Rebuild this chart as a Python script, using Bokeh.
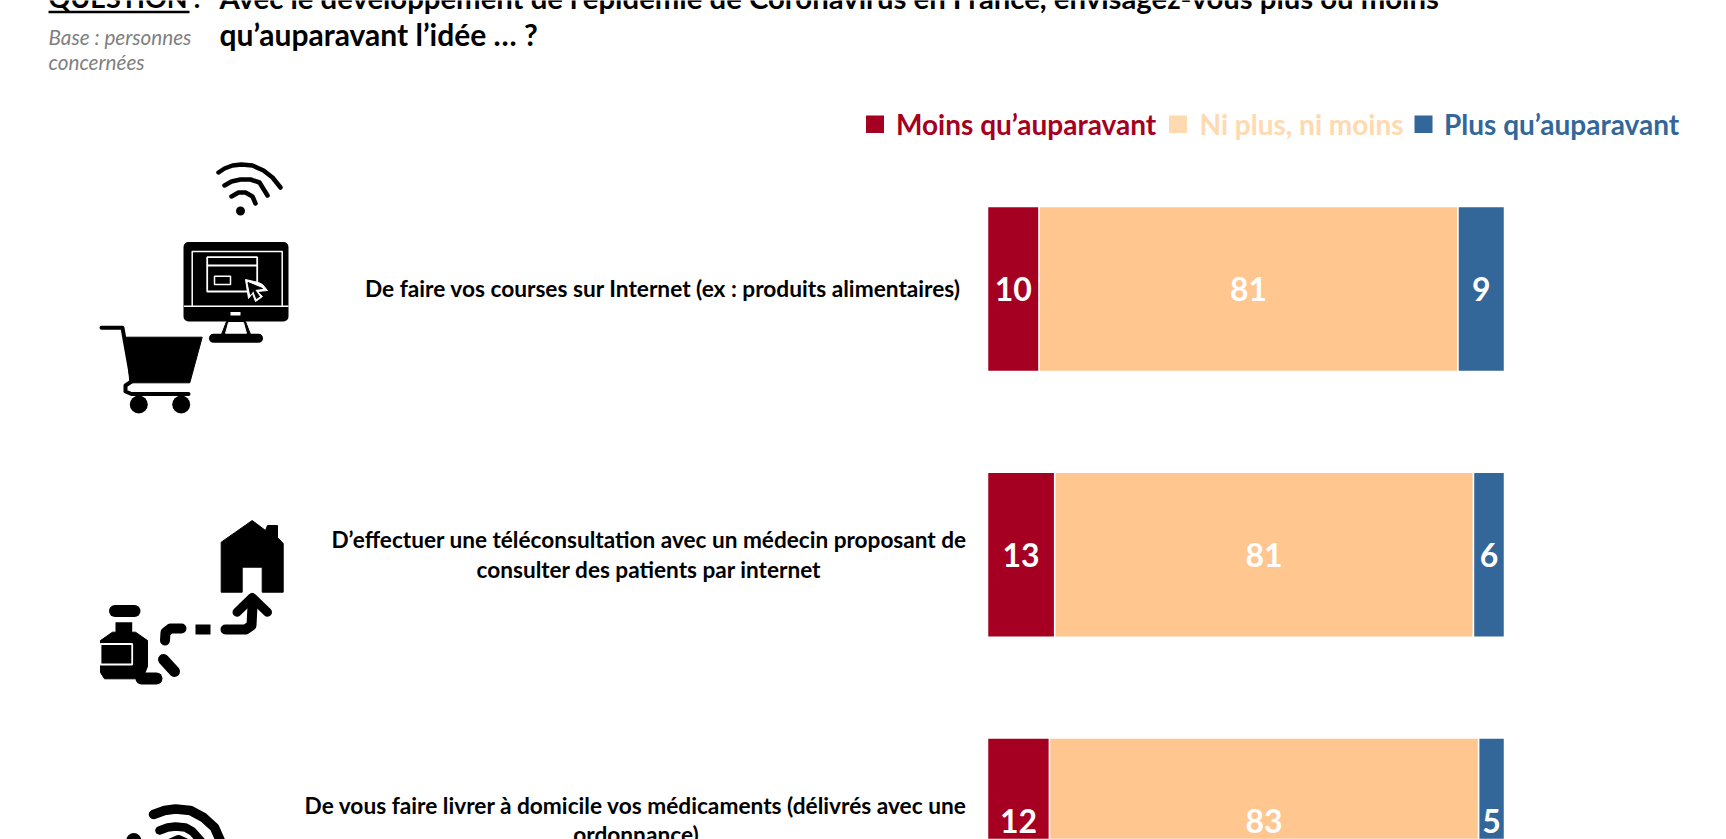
from bokeh.plotting import figure
from bokeh.models import Range1d, ColumnDataSource
from bokeh.core.properties import value
from bokeh.embed import file_html
from bokeh.resources import INLINE

# --- data ---
rows = [0, 1, 2]
moins = [10, 13, 12]
ni = [81, 81, 83]
plus = [9, 6, 5]
series_names = ["Moins qu’auparavant", "Ni plus, ni moins", "Plus qu’auparavant"]
row_labels = [
    ["De faire vos courses sur Internet (ex : produits alimentaires)"],
    ["D’effectuer une téléconsultation avec un médecin proposant de", "consulter des patients par internet"],
    ["De vous faire livrer à domicile vos médicaments (délivrés avec une", "ordonnance)"],
]
RED, PEACH, BLUE = "#A50021", "#FFC68F", "#336699"
FONT = value("Lato")
W, H = 1726, 839

# value axis: 0 at px 987, 100 at px 1504; rows: centres at px 288.5 + 265.75*r
ppu = 5.17
rowh = 265.75
p = figure(width=W, height=H, output_backend="svg", toolbar_location=None,
           x_range=Range1d(-987 / ppu, (W - 987) / ppu),
           y_range=Range1d((H - 288.5) / rowh, -288.5 / rowh),
           min_border=0, margin=0)
p.axis.visible = False
p.grid.visible = False
p.outline_line_color = None
p.background_fill_color = "white"
p.border_fill_color = "white"
p.extra_x_ranges["px"] = Range1d(0, W)
p.extra_y_ranges["px"] = Range1d(H, 0)
PX = dict(x_range_name="px", y_range_name="px")

# --- bars ---
left = [0, 0, 0]
for vals, col in zip([moins, ni, plus], [RED, PEACH, BLUE]):
    right = [a + b for a, b in zip(left, vals)]
    src = ColumnDataSource(dict(y=rows, left=left, right=right,
                                mid=[(a + b) / 2 for a, b in zip(left, right)],
                                txt=[str(v) for v in vals]))
    p.hbar(y="y", left="left", right="right", height=0.62, source=src,
           fill_color=col, line_color="white", line_width=1.5)
    p.text(x="mid", y="y", text="txt", source=src, text_color="white",
           text_font=FONT, text_font_style="bold", text_font_size="32px",
           text_align="center", text_baseline="middle")
    left = right


def label(x, y, s, size, color="black", align="left", style="bold", baseline="middle"):
    p.text(x=[x], y=[y], text=[s], text_color=color, text_font=FONT,
           text_font_style=style, text_font_size=f"{size}px",
           text_align=align, text_baseline=baseline, **PX)


# --- title block ---
label(48, -3, "QUESTION", 27, baseline="alphabetic")
p.line([48, 189], [11.5, 11.5], line_color="black", line_width=2.5, **PX)
label(193, -3, ":", 27, baseline="alphabetic")
label(219, -3, "Avec le développement de l’épidémie de Coronavirus en France, envisagez-vous plus ou moins", 29.3, baseline="alphabetic")
label(219, 33, "qu’auparavant l’idée … ?", 30, baseline="alphabetic")
label(48, 36, "Base : personnes", 20.7, color="#7F7F7F", style="italic")
label(48, 61, "concernées", 20.7, color="#7F7F7F", style="italic")

# --- legend ---
for sq, tx, name, c, tc in zip([865.5, 1168.5, 1414], [895.5, 1199, 1443.5], series_names,
                               [RED, "#FFD9B0", BLUE], [RED, "#FFD9B0", BLUE]):
    p.quad(left=[sq], right=[sq + 18], top=[115], bottom=[132.5], fill_color=c, line_color=None, **PX)
    label(tx, 123, name, 28, color=tc)

# --- row labels ---
centres = [662.5, 648.5, 635.5]
ys = [[288], [539, 569], [804.7, 834]]
sizes = [22.7, 22.6, 22.7]
for lines, cx, yy, sz in zip(row_labels, centres, ys, sizes):
    for s, y in zip(lines, yy):
        label(cx, y, s, sz, align="center")


# --- icons (pictograms, drawn in page pixels) ---
def poly(xs, ys, c="black"):
    p.patch(xs, ys, fill_color=c, line_color=c, line_width=1, line_join="round", **PX)


def stroke(xs, ys, w, c="black"):
    p.line(xs, ys, line_color=c, line_width=w, line_cap="round", line_join="round", **PX)


def box(l, r, t, b, c="black", lc=None, lw=1):
    p.quad(left=[l], right=[r], top=[t], bottom=[b], fill_color=c, line_color=lc, line_width=lw, **PX)


# wifi
stroke([218, 224, 232, 241, 252, 263, 272, 280], [172, 168, 165, 164, 165, 170, 177, 187], 4.5)
stroke([224, 231, 240, 250, 259, 267], [185, 181, 179, 179, 182, 195], 4.5)
stroke([231, 238, 245, 252, 255], [196, 192, 192, 196, 203], 4.5)
p.scatter([240], [210.5], size=9, fill_color="black", line_color=None, **PX)
# monitor
stroke([188, 283, 283, 188, 188], [246.5, 246.5, 316, 316, 246.5], 10)
box(188, 283, 246.5, 316)
stroke([191.7, 191.7, 281.7, 281.7], [305, 251, 251, 305], 1.5, "white")
box(183.5, 288, 305, 306.5, "white")
box(206.7, 256.7, 256.7, 291, "black", "white", 1.8)
stroke([207, 256], [265, 265], 1.8, "white")
box(214, 230, 275.7, 284, "black", "white", 1.5)
poly([245, 248, 252, 255, 258, 262, 257, 267, 262, 258], [279, 298, 293, 301, 299, 296, 291, 290, 284, 282], "white")
poly([247.5, 250, 253, 256, 259, 254, 262], [282, 294, 290, 298, 296, 289, 288])
box(230, 240, 311.5, 315, "white")
poly([226, 245, 250, 221], [321, 321, 334, 334])
poly([228, 243, 246, 225], [322, 322, 333, 333], "white")
stroke([213, 258], [337.7, 337.7], 9)
# cart
stroke([101, 122, 131], [327.3, 327.3, 378], 4)
poly([125.7, 201.7, 189.3, 129.3], [336.7, 336.7, 382.3, 382.3])
stroke([131, 125, 125, 131, 188], [381, 385, 391, 393.5, 393.5], 4)
p.scatter([138.3, 180.7], [404, 404], size=18, fill_color="black", line_color=None, **PX)

# house
poly([251.7, 265, 267, 277, 277, 282.7, 282.7, 261.7, 261.7, 241.7, 241.7, 220.7, 220.7],
     [520, 530, 525, 525, 537, 543, 591.7, 591.7, 566.7, 566.7, 591.7, 591.7, 541.7])
# dashed arrow
stroke([225, 245, 251, 252], [629, 629, 625, 605], 10)
stroke([236.5, 251.7, 267], [611.7, 597, 611.7], 9)
box(195, 210, 624, 634)
stroke([181, 170, 165, 164.5], [628, 628, 632, 640], 10)
# bottle and pills
stroke([114.5, 134], [610.5, 610.5], 12)
box(115, 131.7, 621.7, 633)
poly([100, 112, 135, 147, 147, 142, 104, 100], [640, 631.7, 631.7, 640, 666, 678.3, 678.3, 672])
box(100, 131.7, 643.5, 664, "black", "white", 1.8)
stroke([141, 156], [678, 678], 12)
stroke([163, 174], [659, 671], 11)

# third pictogram (cut by the page bottom)
stroke([153, 164, 175, 190, 203, 214, 222], [814, 810, 808.5, 810, 817, 827, 845], 9.5)
stroke([159, 167, 175, 185, 192, 207], [830, 827, 826, 827, 831, 848], 8.5)
stroke([170, 178, 188], [842, 838.5, 843], 8)
p.scatter([133.3], [840], size=15, fill_color="black", line_color=None, **PX)

open("out.html", "w").write(file_html(p, INLINE))
